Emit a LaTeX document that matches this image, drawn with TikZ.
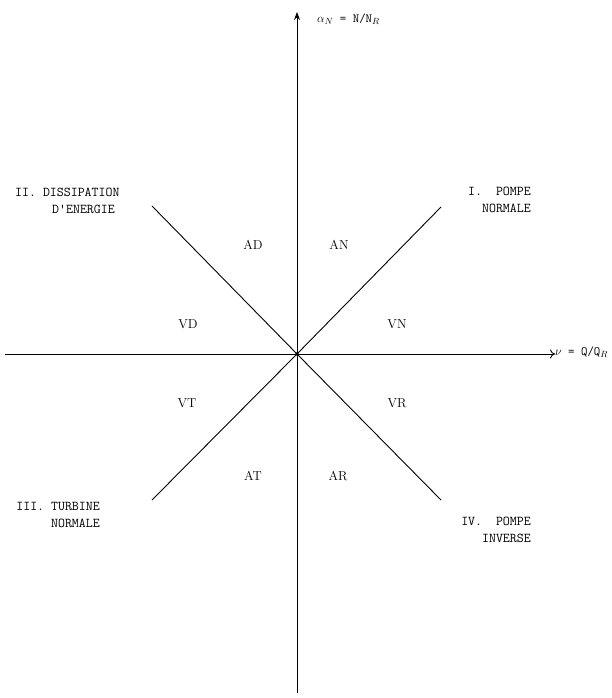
\documentclass[tikz,border=0pt]{standalone}
\usetikzlibrary{arrows.meta,calc,positioning}

\tikzset{
  axis/.style={line width=0.9pt},
  quadlabel/.style={inner sep=0pt, font=\fontsize{13.5}{17}\selectfont\ttfamily},
  axislabel/.style={inner sep=0pt, anchor=west, font=\fontsize{12.5}{15}\selectfont\ttfamily},
  zonelabel/.style={inner sep=0pt, font=\fontsize{13}{15}\selectfont},
}

\begin{document}
\begin{tikzpicture}[x=1pt,y=1pt]
\useasboundingbox (-297,-344) rectangle (315,354);

\coordinate (root) at (0, 0);
\filldraw (root) circle [radius=1.5pt];

% axes
\coordinate (top) at ($(root) + (0,342)$);
\coordinate (bottom) at ($(root) + (0,-339)$);
\coordinate (left) at ($(root) + (-292,0)$);
\coordinate (right) at ($(root) + (258,0)$);

\draw [axis, -{Stealth[length=8pt,width=6pt]}] (bottom) to (top);
\draw [axis, -{To[length=5pt,width=9pt]}] (left) to (right);

% diagonals
\coordinate (ne) at ($(root) + (144,147)$);
\coordinate (nw) at ($(root) + (-145,148)$);
\coordinate (sw) at ($(root) + (-145,-146)$);
\coordinate (se) at ($(root) + (144,-146)$);

\draw [axis] (sw) to (root) to (ne);
\draw [axis] (nw) to (root) to (se);

\node[axislabel] (alpha) at ($(root) + (20,335)$) {$\alpha_N$ = N/N$_R$};
\node[axislabel] (nu) at ($(root) + (258,2)$) {$\nu$ = Q/Q$_R$};

% quadrants
\node[quadlabel, anchor=north west, align=left] (qII) at ($(root) + (-282,166)$)
  {II. DISSIPATION\\\hspace*{37pt}D'ENERGIE};
\node[quadlabel, anchor=north east, align=right] (qI) at ($(root) + (234,167)$)
  {I.~~POMPE\\NORMALE};
\node[quadlabel, anchor=north east, align=right] (qIII) at ($(root) + (-197,-148)$)
  {III. TURBINE\\NORMALE};
\node[quadlabel, anchor=north east, align=right] (qIV) at ($(root) + (234,-163)$)
  {IV.~~POMPE\\INVERSE};

% zones
\node[zonelabel] (AD) at ($(root) + (-44,109)$) {AD};
\node[zonelabel] (AN) at ($(root) + (42,109)$) {AN};
\node[zonelabel] (VD) at ($(root) + (-109,30)$) {VD};
\node[zonelabel] (VN) at ($(root) + (100,30)$) {VN};
\node[zonelabel] (VT) at ($(root) + (-110,-49)$) {VT};
\node[zonelabel] (VR) at ($(root) + (100,-49)$) {VR};
\node[zonelabel] (AT) at ($(root) + (-44,-122)$) {AT};
\node[zonelabel] (AR) at ($(root) + (41,-122)$) {AR};
\end{tikzpicture}
\end{document}
